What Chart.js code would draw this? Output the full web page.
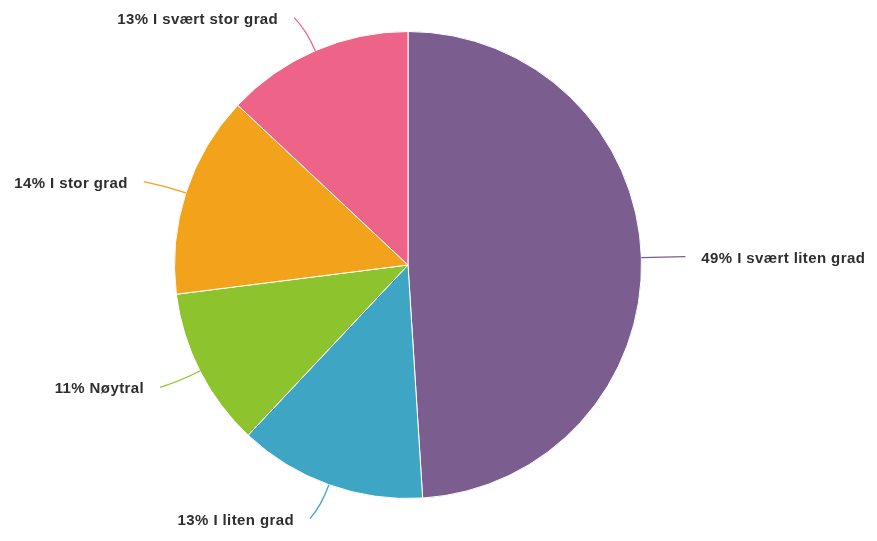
<!DOCTYPE html>
<html>
<head>
<meta charset="utf-8">
<script src="https://cdn.jsdelivr.net/npm/chart.js@4"></script>
<style>
  html, body { margin: 0; padding: 0; background: #fff; }
  #wrap { width: 877px; height: 541px; }
</style>
</head>
<body>
<div id="wrap"><canvas id="myChart" width="877" height="541"></canvas></div>
<script>
// data (clockwise from 12 o'clock)
const categories = ["I svært liten grad", "I liten grad", "Nøytral", "I stor grad", "I svært stor grad"];
const shares = [49, 13, 11, 14, 13];
const sliceColors = ["#7b5e8f", "#3ea5c4", "#8dc32c", "#f3a31b", "#ee6488"];

// leader lines + labels outside the pie
const outsideLabels = {
    id: "outsideLabels",
    afterDatasetsDraw(chart) {
        const ctx = chart.ctx;
        const arcs = chart.getDatasetMeta(0).data;
        ctx.save();
        ctx.font = "bold 15px 'Liberation Sans', Arial, sans-serif";
        ctx.letterSpacing = "0.4px";
        ctx.textBaseline = "middle";
        arcs.forEach((arc, i) => {
            const mid = (arc.startAngle + arc.endAngle) / 2;
            const cos = Math.cos(mid), sin = Math.sin(mid);
            const r = arc.outerRadius;
            const x0 = arc.x + cos * r, y0 = arc.y + sin * r;
            const cx = arc.x + cos * (r + 22), cy = arc.y + sin * (r + 22);
            const side = cos >= 0 ? 1 : -1;
            const x1 = arc.x + cos * (r + 38) + side * 6, y1 = arc.y + sin * (r + 36);

            ctx.strokeStyle = sliceColors[i];
            ctx.lineWidth = 1.3;
            ctx.beginPath();
            ctx.moveTo(x0, y0);
            ctx.quadraticCurveTo(cx, cy, x1, y1);
            ctx.stroke();

            ctx.fillStyle = "#2e2e2e";
            ctx.textAlign = side > 0 ? "left" : "right";
            ctx.fillText(shares[i] + "% " + categories[i], x1 + side * 16, y1 + 2);
        });
        ctx.restore();
    }
};

new Chart(document.getElementById("myChart").getContext("2d"), {
    type: "pie",
    data: {
        labels: categories,
        datasets: [{
            data: shares,
            backgroundColor: sliceColors,
            borderColor: "#fff",
            borderWidth: 1
        }]
    },
    options: {
        responsive: false,
        animation: false,
        layout: { padding: { left: 174, right: 235, top: 31, bottom: 42 } },
        plugins: {
            legend: { display: false },
            tooltip: { enabled: false }
        }
    },
    plugins: [outsideLabels]
});
</script>
</body>
</html>
